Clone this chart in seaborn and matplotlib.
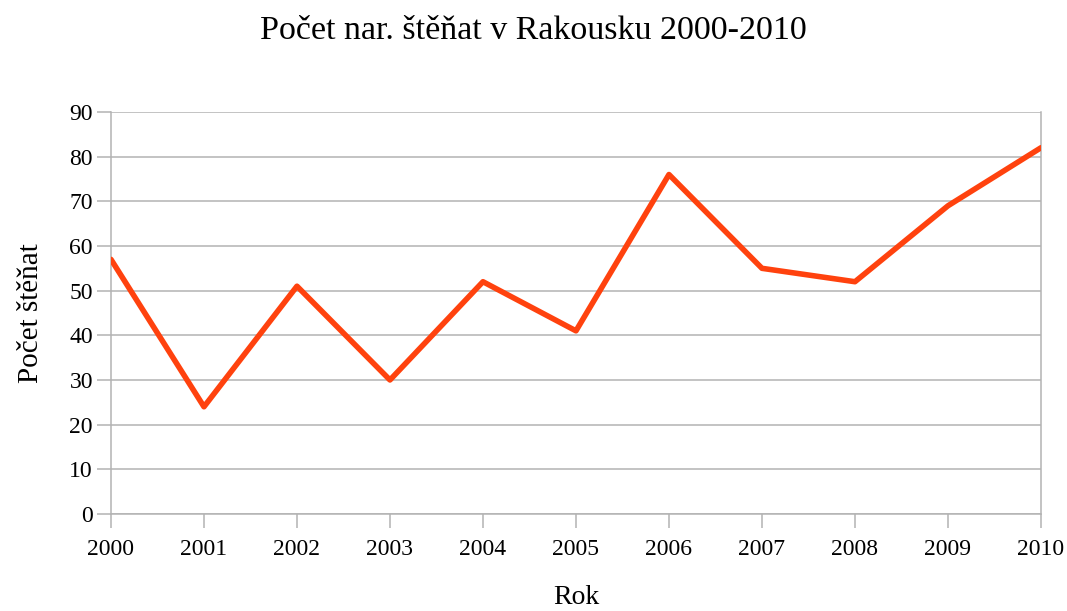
import matplotlib
matplotlib.use('Agg')
import matplotlib.pyplot as plt
import seaborn as sns
import pandas as pd

# data
years = [2000, 2001, 2002, 2003, 2004, 2005, 2006, 2007, 2008, 2009, 2010]
puppies = [57, 24, 51, 30, 52, 41, 76, 55, 52, 69, 82]
y_ticks = [0, 10, 20, 30, 40, 50, 60, 70, 80, 90]

df = pd.DataFrame({'Rok': years, 'Pocet': puppies})

sns.set_style('white')
plt.rcParams['font.family'] = ['Liberation Serif', 'DejaVu Serif']
plt.rcParams['text.color'] = 'black'

grid_col = '#b3b3b3'
fig = plt.figure(figsize=(10.67, 6.11), dpi=100)
ax = fig.add_axes([0.104, 0.1588, 0.8716, 0.6579])

sns.lineplot(data=df, x='Rok', y='Pocet', ax=ax, color='#ff420e', linewidth=4, zorder=3)

ax.set_xlim(years[0], years[-1])
ax.set_ylim(0, 90)
ax.set_xticks(years)
ax.set_yticks(y_ticks)
ax.yaxis.grid(True, color=grid_col, linewidth=1.1)
ax.xaxis.grid(False)

for side in ['left', 'right', 'bottom']:
    ax.spines[side].set_visible(True)
    ax.spines[side].set_color(grid_col)
    ax.spines[side].set_linewidth(1.1)
ax.spines['top'].set_visible(False)

ax.tick_params(axis='both', which='major', length=10, width=1.1, color=grid_col,
               labelsize=17, labelcolor='black', direction='out',
               left=True, bottom=True)
ax.tick_params(axis='x', pad=8)
ax.tick_params(axis='y', pad=3)

ax.set_xlabel('Rok', fontsize=20, labelpad=18, color='black')
ax.set_ylabel('Počet štěňat', fontsize=21, labelpad=18, color='black')
fig.suptitle('Počet nar. štěňat v Rakousku 2000-2010', fontsize=24.5, y=0.975, color='black')

fig.savefig('out.png', dpi=100)
